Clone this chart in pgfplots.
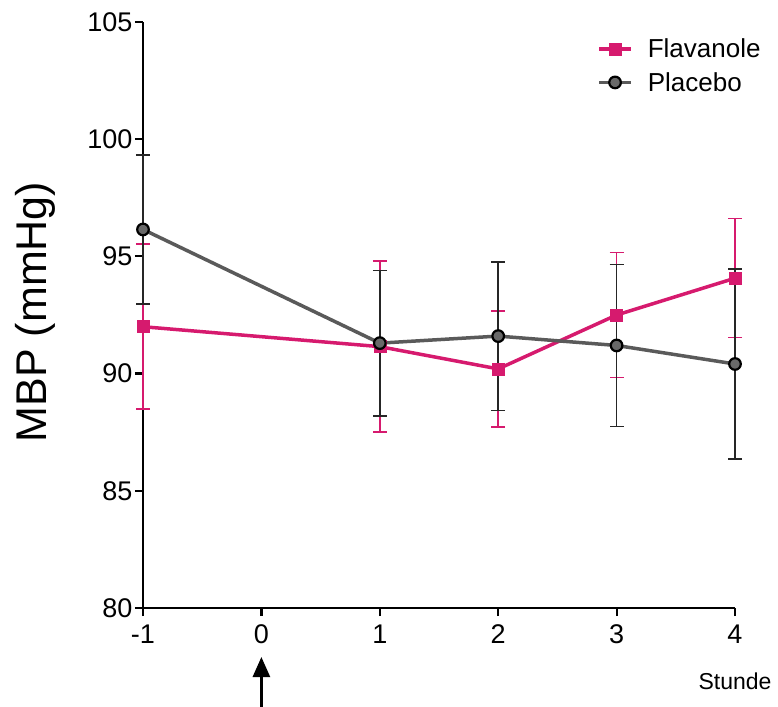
\documentclass[border=0pt]{standalone}
\usepackage{fontspec}
\setmainfont{Liberation Sans}
\usepackage{pgfplots}
\pgfplotsset{compat=1.18}
\usetikzlibrary{arrows.meta}
\definecolor{flav}{RGB}{214,26,110}
\definecolor{plac}{RGB}{90,90,90}
\definecolor{placfill}{RGB}{105,105,105}
\begin{document}
\begin{tikzpicture}
\path[use as bounding box] (-143pt,-98pt) rectangle (635pt,608pt);
\begin{axis}[
  at={(0pt,0pt)}, anchor=south west,
  scale only axis, width=592pt, height=586pt,
  xmin=-1, xmax=4, ymin=80, ymax=105,
  axis x line*=bottom, axis y line*=left,
  axis line style={line width=2.6pt, black},
  xtick={-1,0,1,2,3,4}, xticklabels={-1,0,1,2,3,4},
  ytick={80,85,90,95,100,105},
  tick align=outside, tick style={line width=2.2pt, black},
  major tick length=8pt,
  /pgf/number format/assume math mode=true,
  ticklabel style={font=\fontsize{27}{29}\selectfont},
  xticklabel style={yshift=-5pt},
  yticklabel style={xshift=1pt},
  clip=false,
  legend style={at={(0.762,0.98)}, anchor=north west, draw=none, fill=none,
    font=\fontsize{26}{30}\selectfont, row sep=7pt,
    nodes={inner sep=3pt}},
  legend cell align=left,
  legend image code/.code={\draw[mark repeat=2,mark phase=2] plot coordinates {(0pt,0pt)(16pt,0pt)(32pt,0pt)};\path (44pt,0pt);},
]
\addplot[flav, line width=3.5pt, mark=square*, mark size=6pt,
  mark options={fill=flav, draw=flav, line width=0.5pt},
  error bars/.cd, y dir=both, y explicit,
  error bar style={line width=1.5pt, flav},
  error mark options={rotate=90, mark size=7pt, line width=1.5pt, flav}]
  table[x=x, y=y, y error=e] {
  x y e
  -1 92.0 3.52
  1 91.15 3.65
  2 90.2 2.47
  3 92.5 2.67
  4 94.07 2.54
  };
\addlegendentry{Flavanole}
\addplot[plac, line width=3.5pt, mark=*, mark size=5.8pt,
  mark options={fill=placfill, draw=black, line width=2.2pt},
  error bars/.cd, y dir=both, y explicit,
  error bar style={line width=1.5pt, black!85},
  error mark options={rotate=90, mark size=7pt, line width=1.5pt, black!85}]
  table[x=x, y=y, y error=e] {
  x y e
  -1 96.15 3.18
  1 91.3 3.1
  2 91.6 3.17
  3 91.2 3.46
  4 90.41 4.05
  };
\addlegendentry{Placebo}
\draw[line width=2.7pt, -{Stealth[length=20pt, width=17pt, inset=0pt]}] ([yshift=-100pt]axis cs:0,80) -- ([yshift=-49pt]axis cs:0,80);
\node[font=\fontsize{23}{25}\selectfont] at ([yshift=-73pt]axis cs:4,80) {Stunde};
\end{axis}
\node[rotate=90, font=\fontsize{43}{46}\selectfont] at (-108pt,296pt) {MBP (mmHg)};
\end{tikzpicture}
\end{document}
